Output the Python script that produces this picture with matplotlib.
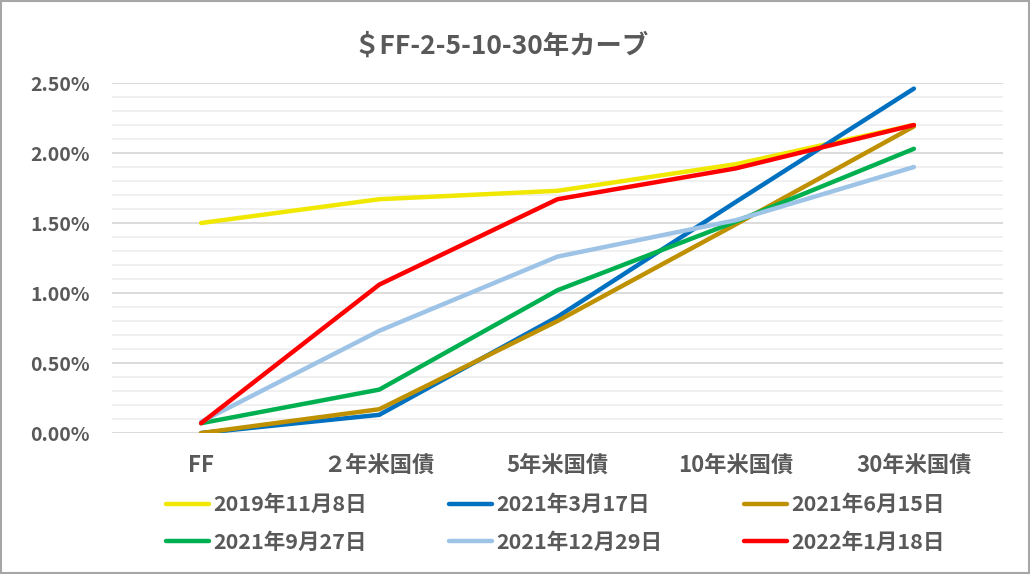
import matplotlib.pyplot as plt
from matplotlib.patches import Rectangle
from matplotlib.ticker import MultipleLocator, FuncFormatter

plt.rcParams['font.family'] = ['Noto Sans CJK JP', 'DejaVu Sans']

# data (yields in %)
maturities = ['FF', '２年米国債', '5年米国債', '10年米国債', '30年米国債']
dates = ['2019年11月8日', '2021年3月17日', '2021年6月15日',
         '2021年9月27日', '2021年12月29日', '2022年1月18日']
y_20191108 = [1.50, 1.67, 1.73, 1.92, 2.20]
y_20210317 = [0.00, 0.13, 0.83, 1.65, 2.46]
y_20210615 = [0.00, 0.17, 0.80, 1.49, 2.19]
y_20210927 = [0.07, 0.31, 1.02, 1.51, 2.03]
y_20211229 = [0.08, 0.73, 1.26, 1.52, 1.90]
y_20220118 = [0.07, 1.06, 1.67, 1.89, 2.20]
series = [y_20191108, y_20210317, y_20210615, y_20210927, y_20211229, y_20220118]
colors = ['#F0E800', '#0070C0', '#BF9000', '#00B050', '#9DC3E6', '#FF0000']

gray = '#595959'

fig = plt.figure(figsize=(10.3, 5.74), dpi=100)
ax = fig.add_axes([0.1087, 0.2456, 0.8651, 0.6098])

x = range(len(maturities))
lines = []
for vals, c, lab in zip(series, colors, dates):
    ln, = ax.plot(x, vals, color=c, lw=3.2, label=lab, solid_capstyle='round',
                  solid_joinstyle='round')
    lines.append(ln)

ax.set_xlim(-0.5, len(maturities) - 0.5)
ax.set_ylim(0, 2.5)
ax.yaxis.set_major_locator(MultipleLocator(0.5))
ax.yaxis.set_minor_locator(MultipleLocator(0.1))
ax.yaxis.set_major_formatter(FuncFormatter(lambda v, p: f'{v:.2f}%'))
ax.grid(axis='y', which='major', color='#D9D9D9', lw=1.3)
ax.grid(axis='y', which='minor', color='#EFEFEF', lw=1.3)
ax.set_axisbelow(True)
for s in ax.spines.values():
    s.set_visible(False)
ax.tick_params(axis='both', which='both', length=0)
ax.tick_params(axis='y', pad=16, labelsize=14, labelcolor=gray)
ax.tick_params(axis='x', pad=15, labelsize=16, labelcolor=gray)
ax.set_xticks(list(x))
ax.set_xticklabels(maturities)
for t in ax.get_xticklabels() + ax.get_yticklabels():
    t.set_fontweight('bold')

fig.text(0.486, 0.92, '＄FF-2-5-10-30年カーブ', ha='center', va='center',
         fontsize=19, fontweight='bold', color=gray)

# legend filled row by row (matplotlib fills columns first)
order = [0, 3, 1, 4, 2, 5]
leg = fig.legend([lines[i] for i in order], [dates[i] for i in order],
                 loc='center', bbox_to_anchor=(0.539, 0.088), ncol=3,
                 frameon=False, handlelength=2.0,
                 columnspacing=3.8, handletextpad=0.2, labelspacing=0.76,
                 prop={'weight': 'bold', 'size': 15.5})
for t in leg.get_texts():
    t.set_color(gray)

fig.add_artist(Rectangle((0.001, 0.001), 0.998, 0.997, transform=fig.transFigure,
                         fill=False, ec='#A6A6A6', lw=1.5))

fig.savefig('out.png', dpi=100)
